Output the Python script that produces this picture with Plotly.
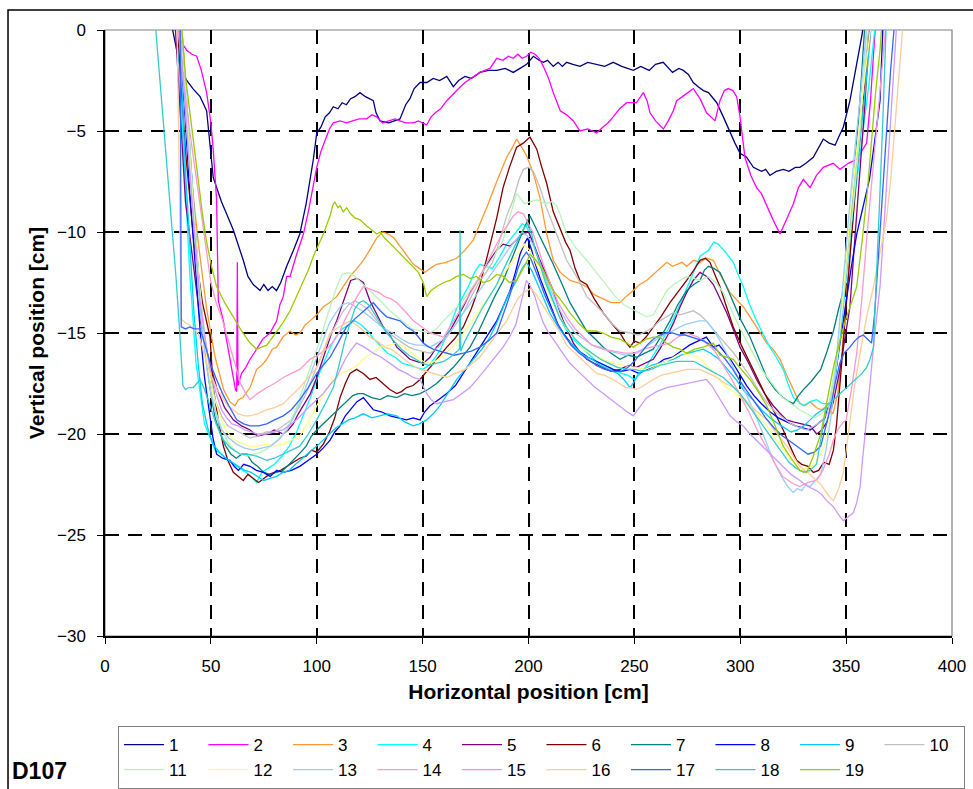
import plotly.graph_objects as go

# ---------------- data (x [cm], y [cm]) ----------------
S1 = [(31,0.5),(35.4,-1.8),(38.6,-2.5),(41.5,-2.9),(44.9,-3.3),(48,-4.0),(51.1,-7.3),(55,-8.5),(57.8,-9.2),(60.6,-9.9),(65.3,-11.4),(67.5,-12.2),(70,-12.6),(73.2,-12.9),(75,-12.6),(77,-12.9),(79,-12.7),(81,-12.9),(83,-12.5),(85.8,-11.7),(89,-10.9),(92,-10.1),(95,-8.6),(98.4,-6.4),(100,-5.1),(102,-4.8),(104,-4.3),(106,-4.1),(107.8,-3.8),(110,-3.9),(112,-3.6),(114,-3.7),(116,-3.4),(118,-3.3),(120.4,-3.1),(123,-3.3),(126.7,-3.5),(128,-4.1),(129.9,-4.5),(134,-4.6),(139.3,-4.4),(142,-3.7),(144,-3.4),(146,-2.9),(148.8,-2.6),(152,-2.6),(155,-2.4),(158,-2.5),(161.4,-2.3),(164.5,-2.8),(167,-2.5),(170,-2.3),(173,-2.4),(177.1,-2.1),(181,-2.0),(185,-2.0),(189,-1.9),(192.8,-2.1),(196,-1.9),(199.1,-1.7),(202.3,-1.3),(205,-1.5),(207,-1.6),(209,-1.5),(211.7,-1.8),(214,-1.6),(216,-1.8),(218,-1.6),(221,-1.7),(224.3,-1.8),(228,-1.6),(232,-1.7),(236,-1.8),(240,-1.6),(244,-1.8),(249.5,-2.0),(253,-1.8),(257,-2.0),(260,-1.7),(263.6,-1.6),(266,-1.9),(268,-2.1),(271,-1.9),(273.1,-2.0),(275.5,-2.2),(277.8,-2.6),(280,-2.8),(282.6,-3.0),(285,-3.1),(288.9,-3.6),(292,-4.3),(295.2,-5.1),(297.5,-5.6),(299.9,-6.1),(303,-6.3),(306.2,-6.8),(308,-6.9),(310,-7.0),(312,-6.9),(314,-7.2),(317,-7.0),(320.4,-6.9),(323,-7.0),(326,-6.8),(328.2,-6.8),(331,-6.6),(334.5,-6.3),(337,-5.8),(339.2,-5.4),(342,-5.6),(344.8,-5.7),(346.5,-5.3),(348.7,-4.8),(351.8,-3.5),(354.5,-2.0),(357.4,-0.3),(358.5,0.5)]
S2 = [(33.8,0.5),(36,-0.6),(38.6,-1.0),(41,-1.2),(43.3,-1.3),(45.5,-2.0),(48,-3.1),(50,-4.6),(51.1,-5.9),(52.7,-8.4),(53.5,-13.4),(55.9,-14.4),(57.5,-15.4),(59,-16.3),(60.5,-17.2),(61.6,-17.8),(62.2,-17.9),(62.5,-11.5),(62.8,-17.6),(64.5,-17.0),(66.5,-16.7),(68.5,-16.3),(71.6,-15.8),(74.5,-15.3),(77.9,-15.0),(81.1,-14.4),(82.6,-13.6),(84.2,-13.2),(85.8,-12.2),(87.4,-12.2),(90.5,-11.1),(93.7,-10.1),(96,-9.0),(98,-7.8),(100,-6.8),(102,-6.0),(104,-5.4),(106,-4.9),(107.8,-4.6),(111,-4.5),(114,-4.6),(117,-4.5),(120,-4.4),(123.6,-4.4),(126,-4.2),(128.3,-4.3),(131,-4.6),(134,-4.5),(137,-4.4),(139.3,-4.5),(142,-4.6),(145.6,-4.6),(148,-4.5),(151.9,-4.7),(154,-4.3),(156,-4.1),(158.5,-3.9),(161.4,-3.5),(164,-3.2),(167,-2.9),(170,-2.6),(173.9,-2.3),(177,-2.1),(181.8,-1.9),(185,-1.4),(188,-1.5),(190.5,-1.3),(192.8,-1.4),(195,-1.2),(197,-1.4),(199.1,-1.3),(201,-1.1),(203.1,-1.2),(205,-1.4),(207,-1.8),(209.5,-2.4),(211.7,-3.1),(215,-4.0),(218,-4.2),(221.2,-4.5),(224.3,-5.0),(228,-4.9),(232.2,-5.1),(235.2,-4.8),(237.5,-4.6),(240,-4.3),(243,-3.9),(246.4,-3.6),(251,-3.6),(254.2,-3.1),(256,-3.5),(257.4,-4.1),(260,-4.5),(263.7,-4.9),(266,-4.5),(268.4,-4.0),(270,-3.5),(274,-3.2),(277.8,-2.9),(281,-3.4),(284.1,-4.1),(288.1,-4.5),(290.4,-3.5),(292.5,-3.0),(294.4,-2.9),(296.5,-3.0),(298.3,-3.3),(299.9,-4.3),(302.2,-6.3),(305,-7.2),(307.7,-7.8),(310,-8.1),(312.5,-8.7),(315.5,-9.4),(318.8,-10.1),(322,-9.3),(325.1,-8.6),(327.5,-7.8),(329.8,-7.4),(333,-7.8),(336,-7.2),(339.2,-6.8),(343.9,-6.6),(347.1,-6.9),(351,-6.6),(355,-6.4),(357.5,-6.0),(359.7,-5.6),(361.5,-3.5),(363,-1.0),(364,0.5)]
S3 = [(34.5,0.5),(37,-3),(40,-6.5),(44,-10.5),(48,-13.8),(52,-16.2),(56,-17.8),(59,-18.4),(61.4,-18.6),(63,-18.3),(65,-18.2),(68.5,-17.7),(71.6,-16.8),(74,-16.6),(76.4,-16.3),(79,-15.8),(81.1,-15.7),(84,-15.2),(87.4,-14.9),(90,-15.1),(92.1,-15.0),(94.5,-14.6),(96.8,-14.4),(100,-14.1),(103.1,-13.7),(106,-13.5),(109.4,-13.2),(112.5,-12.7),(115.7,-12.2),(119,-11.8),(122,-11.4),(125,-10.9),(128.3,-10.3),(131,-10.0),(133.8,-10.1),(136.5,-10.3),(139.3,-10.7),(142.5,-11.2),(145.6,-11.6),(148.5,-11.8),(151.1,-12.0),(153.5,-11.8),(156.6,-11.6),(161,-11.5),(166.1,-11.3),(170,-10.9),(173.9,-10.4),(177,-9.6),(181,-8.6),(185,-7.5),(189.7,-6.3),(192,-5.9),(194.4,-5.4),(196.8,-5.8),(199,-6.2),(202.3,-7.1),(205.4,-8.3),(208.6,-10.1),(211.7,-11.4),(215,-12.0),(219.6,-12.4),(223,-12.5),(227.5,-12.7),(231,-13.1),(235.3,-13.3),(239,-13.5),(243.2,-13.5),(246,-13.2),(249.5,-12.9),(252.5,-12.6),(255.8,-12.4),(260,-12.0),(265.3,-11.5),(268,-11.7),(270,-11.6),(272.5,-11.5),(274.7,-11.7),(278,-11.4),(281,-11.5),(284,-11.3),(287.3,-11.4),(291,-12.2),(295.2,-13.0),(298,-13.3),(301.4,-13.7),(304,-14.1),(307,-14.6),(310,-15.1),(312.5,-15.5),(315.5,-15.8),(318.8,-16.3),(322,-17.1),(325.1,-17.8),(328.2,-18.5),(330.5,-18.6),(333,-18.4),(336,-18.7),(338.5,-18.8),(341,-18.6),(343.8,-19.0),(346,-18.0),(348,-16.0),(351,-12.0),(354,-8.5),(357,-5.0),(360,-2.0),(362,0.5)]
S4 = [(34,0.5),(37,-6),(40,-12),(43,-16.5),(47,-19.5),(52,-20.8),(55,-21.0),(58,-21.3),(61,-21.5),(64,-21.7),(68,-22.0),(71.6,-22.4),(74,-21.9),(77,-21.7),(80,-21.5),(83.5,-21.1),(87,-20.6),(90.5,-19.9),(94,-19.0),(97,-18.2),(100,-17.3),(103,-16.5),(106,-15.8),(109,-15.2),(112,-14.8),(115,-14.6),(118,-14.4),(121,-14.6),(124,-14.9),(127,-15.3),(130,-15.6),(133.5,-16.0),(137,-16.2),(140.5,-16.5),(144,-16.6),(147,-16.7),(150,-16.8),(153,-16.6),(156,-16.2),(158.5,-15.8),(161,-15.2),(163.5,-14.5),(166,-13.8),(169,-13.2),(172,-12.6),(174.5,-12.0),(177,-11.6),(180,-11.7),(183,-11.8),(186.5,-11.2),(189.7,-10.6),(192.5,-10.2),(195,-9.9),(197,-9.6),(199,-9.7),(201,-10.2),(203,-10.8),(205.5,-11.6),(208,-12.4),(211,-13.2),(214,-14.0),(217,-14.7),(220,-15.2),(224,-15.6),(228,-16.0),(232,-16.4),(236,-16.6),(240,-16.8),(244,-17.0),(247,-17.1),(250,-17.3),(253,-17.0),(256,-16.6),(259,-16.1),(262,-15.6),(265,-15.0),(268,-14.4),(271,-13.7),(274,-13.0),(277.5,-12.1),(281,-11.2),(285,-10.9),(287.5,-10.5),(289.6,-10.6),(293,-11.0),(296.7,-11.5),(299,-12.1),(301.4,-12.7),(304.5,-13.6),(307.7,-14.4),(311,-15.1),(314,-15.7),(317,-16.2),(320.3,-16.8),(322.5,-17.5),(325.1,-18.2),(327.5,-18.4),(329.8,-18.6),(333,-18.4),(336,-18.3),(339,-18.5),(342,-18.5),(344.5,-17.2),(347,-15.0),(349.5,-12.5),(352,-10.0),(355,-7.5),(358,-5.0),(361,-2.5),(364,0.5)]
S5 = [(33,0.5),(36,-5),(38,-8.5),(41,-11),(45,-14.4),(49,-16.3),(52.7,-17.7),(56.5,-18.7),(60.6,-19.3),(64.5,-19.6),(68.5,-19.8),(72,-20.1),(76.4,-20.0),(80,-19.8),(84.2,-20.0),(86.5,-19.8),(88.9,-19.5),(91.3,-19.0),(93.7,-18.6),(97,-18.0),(100,-17.2),(102.5,-16.4),(104.7,-15.8),(107,-15.0),(109.4,-14.4),(112,-13.6),(114.1,-13.0),(116,-12.4),(119,-12.3),(122,-12.5),(125.1,-13.4),(128,-14.0),(131.4,-14.7),(134.5,-15.1),(137.8,-15.7),(141,-16.0),(144,-16.3),(147,-16.4),(150.3,-16.5),(153.5,-16.2),(156.6,-15.7),(160,-15.3),(162.9,-14.9),(166,-14.3),(169.2,-13.7),(173,-12.9),(177.1,-12.2),(181,-11.5),(185,-10.9),(188,-10.6),(191.3,-10.7),(194,-10.4),(197,-10.1),(200,-10.0),(202.5,-10.6),(205,-11.3),(208,-12.0),(211.7,-12.9),(214,-13.7),(216.4,-14.4),(219,-15.0),(221.2,-15.5),(224,-15.9),(227.5,-16.3),(231,-16.5),(235.3,-16.7),(239,-16.9),(243.2,-16.8),(247,-16.6),(251,-16.7),(255,-16.5),(258.9,-16.3),(262,-15.8),(265.3,-15.2),(268.5,-14.5),(271.6,-13.7),(274.7,-13.0),(277.8,-12.4),(281,-12.0),(284.1,-12.2),(287.3,-12.6),(290.5,-13.3),(293.6,-14.0),(297,-14.9),(299.9,-15.7),(304,-16.5),(307.7,-17.3),(311.5,-18.0),(315.6,-18.6),(319,-19.0),(321.9,-19.3),(325,-19.4),(329,-19.5),(333,-19.6),(336.1,-20.0),(338.5,-19.8),(341,-19.4),(344,-18.4),(347.1,-16.8),(349.5,-15.3),(351.8,-13.7),(354,-10.5),(356.5,-7.0),(359,-3.5),(361,0.5)]
S6 = [(34,0.5),(38,-6),(42,-10.5),(46,-13.5),(49.6,-15.2),(51.1,-17.7),(53.5,-19.3),(55.9,-20.6),(58,-21.3),(60.6,-21.9),(63,-22.1),(65.3,-22.3),(67.5,-22.0),(70,-22.2),(72.5,-22.4),(75,-22.2),(77.5,-22.0),(80,-21.9),(83,-21.8),(86,-21.6),(89,-21.4),(92,-21.2),(95,-21.1),(97.5,-20.8),(100,-20.9),(103.1,-20.5),(106,-19.9),(108.5,-19.2),(111,-18.2),(113.5,-17.5),(115.7,-17.0),(118.8,-16.8),(122,-17.0),(125.1,-17.3),(128,-17.2),(131.4,-17.5),(134.5,-17.8),(137.8,-18.0),(140,-17.9),(142.4,-17.7),(145.5,-17.6),(148.8,-17.3),(151,-17.0),(153.5,-16.7),(157.5,-16.2),(161.4,-15.7),(165,-15.3),(169.2,-14.7),(173,-13.8),(177.1,-12.6),(181,-11.0),(185,-9.3),(188,-7.8),(191,-6.8),(194.4,-5.8),(197.5,-5.6),(200.7,-5.3),(203.9,-5.9),(206,-6.7),(208.6,-7.6),(211.7,-9.0),(215,-9.8),(217.5,-10.5),(219.6,-10.9),(222,-11.8),(224.3,-12.4),(227.5,-12.6),(231,-13.3),(235.3,-14.0),(239,-14.5),(243.2,-15.0),(245.5,-15.4),(247.9,-15.7),(250,-15.4),(252.6,-15.5),(255.5,-15.2),(258.9,-14.7),(262.5,-14.2),(266.8,-13.5),(270.5,-13.0),(274.7,-12.4),(278,-11.9),(281,-11.4),(283.5,-11.3),(285.7,-11.5),(288,-12.1),(290.4,-12.7),(293.5,-13.7),(296.7,-14.7),(300.5,-15.6),(304.6,-16.5),(308.5,-17.4),(312.5,-18.2),(316.5,-19.0),(320.3,-19.8),(323.5,-20.6),(326.6,-21.3),(329,-21.5),(332,-21.6),(334.5,-21.9),(337,-21.8),(339.5,-21.4),(342,-21.5),(344,-20.8),(345.5,-19.5),(347.5,-17.0),(350.2,-13.4),(352.5,-10.5),(355,-7.0),(358,-3.5),(361.3,0.5)]
S7 = [(36,0.5),(38.5,-3.5),(40,-6),(42,-9),(44,-12),(46,-14.5),(48,-16.5),(50,-18.0),(52,-19.2),(54.5,-20.0),(57,-20.6),(59.5,-21.0),(62,-21.2),(64.5,-21.0),(67,-21.0),(69.5,-21.4),(72,-21.6),(75,-21.9),(78,-22.0),(81,-21.9),(84,-21.8),(87,-21.5),(90,-21.2),(92.5,-20.9),(95,-20.6),(97.5,-20.1),(100,-19.8),(103,-19.5),(106,-19.2),(109,-18.9),(112,-18.6),(114.5,-18.4),(117,-18.1),(119.5,-18.0),(122,-18.0),(126,-18.2),(129.9,-18.3),(133.5,-18.1),(137.8,-18.2),(141.5,-18.0),(145,-18.1),(148.8,-18.0),(152.5,-17.8),(156.6,-17.5),(160.5,-17.1),(164.5,-16.7),(168.5,-16.2),(172.4,-15.7),(176.5,-14.9),(180.3,-14.0),(184,-13.2),(188.1,-12.4),(191,-11.6),(194.4,-10.7),(197.5,-9.9),(200.7,-9.2),(203,-9.7),(205.4,-10.2),(208.5,-10.9),(211.7,-11.6),(215.5,-12.5),(219.6,-13.5),(223.5,-14.2),(227.5,-14.9),(231.5,-15.3),(235.3,-15.7),(239,-16.0),(243.2,-16.3),(247,-16.1),(251,-16.2),(255,-16.0),(258.9,-15.8),(263,-15.1),(266.8,-14.4),(270.5,-13.6),(274.7,-12.9),(278,-12.6),(281,-12.4),(283,-11.9),(285,-11.7),(287.5,-11.8),(290.4,-12.0),(293.5,-12.7),(296.7,-13.5),(300.5,-14.4),(304.6,-15.2),(308.5,-16.2),(312.5,-17.2),(316.5,-17.8),(320.3,-18.2),(323,-18.4),(325.1,-18.5),(327.5,-18.1),(329.8,-17.8),(333.5,-17.4),(338,-16.8),(341,-15.9),(344,-14.9),(346.5,-13.8),(348.7,-12.9),(351,-10.5),(354,-7.0),(356.5,-3.5),(359,0.5)]
S8 = [(35,0.5),(37.5,-4),(40,-8),(42.5,-11.5),(45,-15),(47,-17.2),(49,-18.8),(51,-20.2),(52.7,-21.0),(55.5,-21.2),(59,-21.3),(61,-21.6),(63,-21.8),(65.5,-21.5),(68.5,-21.6),(71.5,-21.8),(74.8,-21.9),(78,-22.1),(81,-21.8),(84.2,-21.9),(88,-21.8),(92,-21.6),(96,-21.3),(100,-21.0),(103,-20.7),(106.3,-20.3),(108.5,-19.9),(111,-19.6),(113.5,-19.1),(115.7,-18.8),(119,-18.4),(122,-18.2),(124.5,-18.5),(126.7,-18.8),(130.5,-18.9),(134.6,-19.1),(138.5,-19.2),(142.4,-19.3),(145.5,-19.2),(148.8,-19.3),(151,-18.9),(153.5,-18.6),(157.5,-18.3),(161.4,-18.0),(165.5,-17.6),(169.2,-17.0),(173,-16.4),(177.1,-15.7),(181,-15.1),(185,-14.4),(188,-13.7),(191.3,-12.9),(193.8,-12.0),(196,-11.1),(198,-10.6),(199.5,-10.3),(201.5,-10.9),(203,-11.5),(205.5,-12.3),(208,-13.0),(211,-13.8),(214,-14.6),(217,-15.1),(220,-15.5),(224,-15.9),(228,-16.2),(232,-16.4),(236,-16.6),(240,-16.8),(244,-16.9),(248,-16.8),(252,-17.0),(256,-16.8),(260,-16.6),(264,-16.3),(268,-16.2),(272,-15.9),(276,-15.6),(280,-15.4),(284,-15.2),(287.3,-15.7),(290,-15.6),(293,-16.0),(296,-16.4),(299.5,-17.0),(303,-17.6),(306.5,-18.1),(310,-18.5),(314,-18.9),(318,-19.2),(322,-19.4),(326,-19.6),(329.5,-19.7),(333,-19.8),(336.5,-19.5),(340,-19.2),(342.5,-18.3),(345,-17.0),(347.5,-15.2),(350,-13.4),(352.5,-11.7),(355,-10.1),(358,-8.8),(361,-7.4),(363.5,-5.5),(366,-3.5),(367.5,0.5)]
S9 = [(35,0.5),(38,-7),(40,-10.5),(42,-14),(44,-16.5),(46,-18.5),(48.5,-19.7),(51,-20.5),(54,-20.9),(57,-21.2),(60,-21.4),(63,-21.6),(66,-21.8),(69,-21.9),(72,-22.1),(75,-22.3),(78,-22.2),(81,-22.1),(84,-21.9),(87,-21.8),(90,-21.5),(93,-21.2),(96.5,-20.9),(100,-20.6),(103,-20.3),(106,-20.0),(109,-19.7),(112,-19.5),(115,-19.3),(118,-19.2),(122,-19.0),(126,-19.2),(129.9,-19.1),(133.5,-19.0),(137.8,-19.1),(141.5,-19.4),(145.6,-19.6),(148.5,-19.5),(151.9,-19.3),(155,-19.0),(158.2,-18.6),(162,-18.0),(166.1,-17.3),(170,-16.8),(173.9,-16.3),(178,-15.8),(181.8,-15.2),(185,-14.5),(188.1,-13.7),(191,-13.0),(194.4,-12.4),(197,-11.8),(199,-11.5),(201.5,-11.9),(204,-12.5),(207,-13.3),(210,-14.0),(214,-14.7),(218,-15.3),(222,-15.7),(226,-16.1),(230,-16.3),(234,-16.6),(238,-16.8),(242,-17.0),(245,-17.3),(248,-17.7),(250,-17.4),(252,-17.0),(255,-16.8),(258,-16.6),(261.5,-16.5),(265,-16.4),(268.5,-16.3),(272,-16.1),(275.5,-16.0),(279,-15.9),(282.5,-15.8),(286,-16.0),(290,-16.3),(294,-16.8),(298,-17.3),(302,-17.9),(306,-18.3),(310,-18.8),(314,-19.2),(318,-19.5),(321,-19.7),(324,-19.9),(327,-19.8),(330,-19.6),(333,-19.3),(336,-19.0),(339,-18.8),(342,-18.6),(344.5,-17.4),(347,-15.5),(349.5,-12.8),(352,-10.0),(354.5,-7.5),(357,-5.0),(359.5,-2.5),(362,0.5)]
S10 = [(36,0.5),(39,-4.5),(42,-9),(44.5,-12.5),(47,-15),(49.5,-16.8),(52,-18.3),(55,-19.1),(58,-19.6),(61.5,-19.8),(65,-20.0),(68.5,-20.2),(72,-20.1),(76,-19.9),(80,-19.9),(84,-19.6),(88,-19.3),(91.5,-18.7),(95,-18.0),(98,-17.2),(101,-16.4),(103.5,-15.8),(106,-15.2),(109,-14.6),(112,-14.0),(115,-13.6),(118,-13.4),(121,-13.6),(124,-13.8),(127,-14.2),(130,-14.6),(134,-15.0),(138,-15.3),(142,-15.6),(145.6,-15.8),(149.5,-15.9),(153.5,-16.0),(157.5,-15.7),(161.4,-15.2),(165.5,-14.6),(169.2,-14.0),(173,-13.2),(177.1,-12.4),(180,-12.0),(183,-11.5),(185,-10.9),(187.5,-10.0),(189.7,-9.2),(192.8,-8.4),(195.5,-7.4),(197.6,-6.9),(200,-6.8),(202.3,-7.0),(205.4,-7.8),(208.5,-8.8),(211.7,-9.7),(215,-10.6),(218,-11.4),(221,-11.9),(224.3,-12.5),(227.5,-13.2),(231.5,-13.6),(235.3,-14.0),(239,-14.5),(243.2,-14.9),(248,-15.0),(252,-15.1),(255.8,-14.9),(259,-14.7),(262,-14.4),(265,-14.2),(268.4,-14.0),(271.5,-14.1),(274.7,-14.0),(277.8,-13.9),(281,-14.1),(284,-14.4),(287,-14.8),(290.4,-15.2),(293.5,-15.6),(297,-16.0),(301,-16.6),(305,-17.2),(309,-17.9),(313,-18.5),(316.5,-18.9),(320,-19.2),(324,-19.5),(328,-19.7),(331.5,-19.8),(335,-19.6),(338,-19.4),(341,-19.0),(343.5,-17.8),(346,-16.0),(348.5,-13.5),(351,-10.5),(354,-7.0),(357,-4.0),(359,-2.0),(361,0.5)]
S11 = [(36,0.5),(39,-4.5),(42,-9),(44.5,-12.5),(47,-15.5),(49.5,-17.4),(52,-18.8),(55,-19.7),(58,-20.4),(61,-20.8),(64,-21.0),(67,-21.1),(70,-21.0),(73.5,-20.9),(77,-20.7),(80.5,-20.4),(84,-20.0),(87,-19.5),(90,-18.8),(93,-17.9),(96,-17.0),(99,-16.1),(102,-15.2),(104.5,-14.3),(107,-13.5),(109.5,-12.7),(112,-12.1),(115,-12.0),(118,-12.2),(121,-12.5),(124,-12.8),(127.5,-13.1),(131,-13.5),(134.5,-13.9),(138,-14.2),(141.5,-14.5),(145,-14.8),(149,-14.9),(153.5,-15.0),(156.5,-14.8),(159.8,-14.4),(164.5,-13.9),(169.2,-13.4),(173,-12.8),(177,-12.2),(180,-11.8),(183,-11.3),(185.5,-10.9),(188,-10.4),(191,-9.3),(194.4,-8.1),(196,-8.3),(198,-8.6),(201,-8.5),(203.9,-8.4),(206,-8.5),(208,-8.6),(211,-8.5),(213.3,-8.7),(215.5,-9.3),(218,-10.1),(222.5,-10.8),(227.5,-11.4),(232,-12.0),(237,-12.7),(241,-13.2),(245,-13.6),(248.5,-13.8),(252,-14.0),(255.8,-14.2),(259,-14.1),(262,-13.5),(265.3,-12.9),(268.5,-12.6),(271.5,-12.4),(274.7,-12.2),(278,-12.3),(281,-12.4),(283,-12.3),(285,-12.2),(288.5,-12.5),(292,-13.0),(296,-13.9),(300,-14.8),(305,-15.8),(310,-16.8),(315,-17.5),(320,-18.2),(324,-18.5),(328,-18.8),(331.5,-19.0),(335,-19.2),(338.5,-19.0),(342,-18.5),(345,-16.5),(348,-14.0),(351,-11.0),(354,-8.0),(357,-4.5),(360,0.5)]
S12 = [(35,0.5),(38,-4),(41,-8),(43.5,-11.5),(46,-14.5),(48.5,-16.5),(51,-18.0),(54,-19.0),(57,-19.8),(60,-20.2),(63,-20.4),(66,-20.5),(68.5,-20.6),(72,-20.6),(76.4,-20.5),(80,-20.6),(84.2,-20.5),(88,-20.3),(92,-20.1),(96,-19.4),(100,-18.6),(104,-17.9),(107.8,-17.3),(111.5,-17.0),(115.7,-16.8),(119,-16.6),(122,-16.3),(126,-16.0),(129.9,-15.7),(134,-15.6),(137.8,-15.5),(141.5,-15.7),(145,-16.0),(148.5,-16.3),(152,-16.5),(156,-16.4),(160,-16.1),(164,-15.7),(168,-15.2),(172,-14.6),(176,-14.0),(180,-13.4),(184,-12.8),(188,-12.1),(192,-11.5),(195,-11.0),(198,-10.6),(200.5,-10.9),(203,-11.4),(206.5,-12.3),(210,-13.2),(214,-14.0),(218,-14.8),(222,-15.3),(226,-15.8),(230.5,-16.1),(235,-16.3),(240,-16.5),(245,-16.6),(250,-16.7),(255,-16.8),(260,-16.6),(265,-16.4),(268.5,-16.2),(272,-16.0),(276,-16.1),(280,-16.2),(283,-16.5),(286,-16.8),(290,-17.3),(293.6,-17.7),(297,-17.9),(300,-18.2),(303,-18.5),(306,-18.8),(309,-19.2),(312.5,-19.6),(315.5,-20.1),(318.5,-20.5),(322,-21.0),(325,-21.4),(328,-21.8),(331,-21.7),(334,-21.6),(337,-21.2),(340,-20.5),(343,-18.5),(346,-16.0),(349,-12.5),(352,-9.0),(355,-6.0),(358,-3.0),(362,0.5)]
S13 = [(35,0.5),(37.5,-3.5),(40,-7),(42.5,-10.5),(45,-14),(47.5,-16.3),(50,-18),(52.5,-19.1),(55,-19.8),(58.5,-20.2),(62,-20.5),(66,-20.7),(70,-20.8),(74,-20.7),(78,-20.6),(82,-20.3),(86,-19.8),(89.5,-19.1),(93,-18.2),(96.5,-17.2),(100,-16.2),(103,-15.3),(106,-14.5),(109,-14.0),(112,-13.6),(115,-13.5),(118,-13.7),(121.5,-13.9),(125,-14.2),(128.5,-14.5),(132,-14.8),(136,-15.0),(140,-15.3),(143.5,-15.5),(147,-15.6),(150,-15.6),(153.5,-15.7),(157,-15.5),(160,-15.3),(164,-14.8),(168,-14.2),(172,-13.6),(176,-13.0),(180,-12.4),(184,-11.8),(187.5,-11.3),(191,-10.8),(194,-10.4),(197,-10.0),(199.5,-10.2),(202,-10.6),(205,-11.4),(208,-12.3),(211.5,-13.1),(215,-13.9),(218.5,-14.5),(222,-15.0),(226,-15.3),(230,-15.6),(234,-15.7),(238,-15.9),(242,-16.0),(246,-16.1),(250,-16.0),(254,-15.8),(258,-15.5),(262,-15.2),(266,-15.0),(270,-14.8),(273.5,-14.6),(277,-14.5),(280.5,-14.4),(284,-14.4),(287,-14.8),(290,-15.3),(293.5,-16.0),(297,-16.8),(300.5,-17.5),(304,-18.3),(307,-19.0),(310,-19.8),(313,-20.6),(315.6,-21.3),(318,-21.8),(320,-22.2),(322.5,-22.6),(325,-22.9),(327,-22.7),(329,-22.8),(331,-22.5),(333,-22.6),(335.5,-22.3),(338,-22.0),(340.5,-20.8),(343,-19.0),(345.5,-16.2),(348,-13.0),(351,-9.5),(354,-6.0),(357,-3.0),(360,0.5)]
S14 = [(34,0.5),(37,-2.5),(40,-5),(43,-7.3),(46,-9.5),(48,-11.0),(50,-12.5),(52.5,-13.5),(55,-14.2),(57.5,-15.1),(60,-16.0),(62,-16.8),(64,-17.5),(66.5,-18.0),(68.5,-18.3),(72,-18.0),(76.4,-17.7),(80,-17.5),(84.2,-17.2),(88,-17.0),(92,-16.8),(96.8,-16.3),(100.5,-16.1),(104.7,-15.8),(108,-15.4),(111,-14.9),(113.5,-14.3),(116,-13.8),(119,-13.2),(122,-12.7),(124.5,-12.8),(126.7,-12.9),(129.5,-13.0),(132,-13.2),(135,-13.3),(137.8,-13.5),(141.5,-13.9),(145.6,-14.4),(149.5,-14.7),(153.5,-15.0),(157,-15.1),(160,-15.2),(163.5,-14.6),(167,-14.0),(171,-13.3),(175,-12.6),(179,-11.8),(183,-11.0),(186,-10.4),(188,-10.0),(190.5,-9.6),(192.8,-9.2),(195,-9.0),(197.6,-9.1),(200,-9.6),(202,-10.0),(204.5,-10.8),(207,-11.6),(210.5,-12.6),(214,-13.5),(218,-14.2),(222,-14.8),(226,-15.2),(230,-15.6),(235,-15.8),(240,-15.9),(245.5,-16.0),(251,-16.0),(254.5,-15.8),(258,-15.7),(262.5,-15.6),(266.8,-15.5),(270.5,-15.2),(274.7,-15.0),(277.5,-15.1),(280,-15.2),(284,-15.5),(288,-15.9),(292,-16.6),(296,-17.3),(300,-18.1),(304,-18.9),(308,-19.8),(312,-20.6),(316,-21.4),(320,-22.1),(324,-22.4),(328,-22.6),(332,-22.4),(336,-22.3),(339,-21.8),(342,-21.0),(344,-20.3),(346,-19.8),(348,-19.5),(350,-19.3),(352.5,-17.8),(355,-16.0),(357.5,-13.2),(360,-10.0),(362.5,-7.0),(365,-4.0),(367,-1.8),(369,0.5)]
S15 = [(35,0.5),(37.5,-3.5),(40,-7),(42.5,-10.3),(45,-13.5),(47.5,-15.5),(50,-17),(52.5,-18.0),(55,-18.8),(57.5,-19.2),(60,-19.5),(63,-19.6),(66,-19.8),(69,-19.9),(72,-20.0),(76,-20.0),(80,-19.9),(84,-19.8),(88,-19.5),(91.5,-19.2),(95,-18.8),(99,-18.4),(103,-18.0),(106,-17.6),(109.4,-17.2),(112,-16.6),(114,-16.2),(116.5,-15.8),(118.8,-15.5),(122.5,-15.7),(126.7,-16.0),(130.5,-16.2),(134.6,-16.5),(138.5,-16.8),(142.4,-17.0),(145.5,-17.2),(148.8,-17.3),(150.5,-17.7),(151.9,-18.0),(154,-18.3),(156.6,-18.5),(160.5,-18.4),(164.5,-18.3),(168.5,-18.0),(172.4,-17.7),(176.5,-17.2),(180.3,-16.7),(184,-16.2),(188,-15.7),(191,-15.2),(194,-14.6),(196.5,-13.5),(199,-12.4),(201,-12.7),(203,-13.2),(205,-13.9),(207,-14.5),(209.5,-15.0),(211.7,-15.3),(215.5,-15.9),(219.6,-16.5),(223.5,-16.9),(227.5,-17.3),(231.5,-17.7),(235.3,-18.0),(239,-18.3),(243.2,-18.6),(246.5,-18.9),(249.5,-19.1),(252.5,-18.7),(255.8,-18.2),(260.5,-17.9),(265.3,-17.7),(270,-17.6),(274.7,-17.5),(279.5,-17.4),(284,-17.3),(286.5,-17.6),(288.8,-18.0),(292,-18.6),(295.2,-19.1),(298.5,-19.4),(301.4,-19.6),(304.6,-20.0),(308.5,-20.4),(312.5,-20.8),(316.5,-21.2),(320.3,-21.6),(324,-22.0),(328.2,-22.3),(332,-22.6),(336,-22.8),(338.5,-23.0),(340.8,-23.3),(344,-23.6),(346.5,-24.0),(348.7,-24.3),(351,-24.1),(353.4,-23.9),(355,-23.4),(356.6,-22.6),(358,-21.0),(359.7,-19.3),(361.3,-17.5),(362.9,-15.7),(364.5,-14.2),(366,-12.7),(368,-9.5),(370,-6.0),(372,-3.0),(374,0.5)]
S16 = [(34,0.5),(35,-7),(36,-14.3),(38,-14.5),(40,-14.6),(42,-14.8),(44,-15.0),(46,-15.7),(48,-16.5),(50.5,-17.2),(53,-17.8),(55.5,-18.2),(58,-18.6),(60.5,-18.8),(63,-19.0),(66,-19.1),(68.5,-19.1),(72,-19.0),(76.4,-18.8),(80,-18.7),(84.2,-18.5),(88,-18.1),(92,-17.7),(96,-17.2),(100,-16.7),(103,-15.9),(106.3,-15.0),(109,-14.8),(112,-14.6),(114,-14.5),(116,-14.4),(120,-14.7),(125,-15.2),(128.5,-15.4),(132,-15.7),(135,-15.8),(137.8,-16.0),(141.5,-16.3),(145,-16.6),(148.8,-16.8),(152,-16.9),(155,-17.0),(158,-17.1),(161.4,-17.2),(165.5,-17.0),(170,-16.8),(173.5,-16.5),(177,-16.2),(180.5,-15.7),(184,-15.2),(187,-14.8),(189.7,-14.4),(192.5,-13.8),(195,-13.3),(197.6,-13.0),(201,-12.8),(203,-13.0),(205.4,-13.4),(208.5,-13.9),(211.7,-14.4),(215,-15.0),(218,-15.6),(221,-15.9),(224.3,-16.2),(228,-16.6),(232.2,-17.0),(236,-17.1),(240,-17.3),(243,-17.5),(246,-17.7),(248.5,-17.7),(251,-17.8),(254.5,-17.6),(258.9,-17.3),(262.5,-17.1),(266.8,-17.0),(270.5,-16.9),(274.7,-16.8),(278,-16.8),(281,-16.8),(285,-17.0),(289,-17.2),(293,-17.5),(296.7,-17.7),(300.5,-18.1),(304,-18.5),(308,-18.9),(312.5,-19.3),(316,-19.8),(319,-20.2),(322,-20.6),(325,-21.1),(328,-21.6),(332,-21.9),(336,-22.3),(338,-22.5),(340,-22.8),(342,-23.1),(344,-23.3),(346.5,-22.7),(348.7,-21.9),(350.3,-20.6),(351.8,-19.3),(354,-17.6),(356.6,-16.0),(359.5,-14.3),(362.9,-12.7),(366,-11.0),(369,-9.4),(371,-7.5),(373,-5.0),(375,-2.3),(377,0.5)]
S17 = [(35.5,0.5),(36,-14.7),(38,-14.8),(40,-14.7),(42,-14.8),(44.9,-14.8),(46.4,-15.3),(48,-15.9),(50,-16.6),(52.7,-17.3),(55.5,-18.0),(58.5,-18.6),(62.2,-19.3),(65.5,-19.5),(68.5,-19.6),(72.5,-19.6),(76.4,-19.5),(80,-19.3),(84.2,-19.1),(88,-18.8),(92,-18.3),(96,-17.7),(100,-17.0),(103,-16.6),(106.3,-16.2),(110,-15.5),(114,-14.7),(118,-14.3),(122,-13.9),(124.5,-13.7),(126.7,-13.5),(130,-13.9),(133,-14.2),(136,-14.3),(139.3,-14.4),(142.5,-14.7),(145.6,-14.9),(148,-15.2),(150.3,-15.5),(153,-15.7),(155,-15.8),(158,-15.9),(161.4,-16.0),(165,-16.1),(169.2,-16.0),(173,-15.9),(177,-15.7),(181,-15.4),(185,-15.0),(187.5,-14.3),(190,-13.5),(192.5,-12.7),(195,-11.8),(197,-11.3),(199,-11.0),(201,-11.3),(203,-11.8),(205.5,-12.5),(208,-13.2),(211,-13.9),(214,-14.6),(217,-15.1),(220,-15.6),(224,-16.0),(228,-16.3),(232,-16.6),(236,-16.8),(240,-16.9),(244,-16.9),(247,-16.7),(250,-16.4),(253,-16.0),(256,-15.6),(259,-15.3),(262,-15.1),(265,-15.0),(268,-15.0),(271,-15.1),(274,-15.1),(277,-15.2),(280,-15.3),(283,-15.4),(286,-15.6),(289.5,-15.9),(293,-16.3),(296.5,-16.8),(300,-17.4),(304,-18.0),(308,-18.6),(312,-19.2),(316,-19.7),(320,-20.1),(324,-20.4),(328,-20.7),(332,-21.0),(335,-20.9),(338,-20.6),(340.5,-19.6),(343,-18.5),(345,-17.4),(347,-16.5),(349,-16.0),(351.8,-15.7),(354,-15.4),(356,-15.2),(358.1,-15.1),(360,-15.3),(362,-15.5),(363.5,-14.0),(365,-11.5),(366.5,-9.0),(368,-6.5),(369.5,-4.0),(371,-2.0),(373,0.5)]
S18 = [(23.6,0.5),(26,-2.5),(28,-5),(30,-7.5),(32,-10),(33.5,-12.2),(35,-14.5),(36.8,-17.6),(38,-17.8),(39.5,-17.7),(41.7,-17.7),(43.5,-17.5),(44.9,-17.3),(47,-17.8),(49.6,-18.6),(52.5,-19.5),(55.9,-20.3),(59.5,-20.7),(63.8,-21.0),(67.5,-21.0),(71.6,-21.1),(74,-21.2),(76.4,-21.3),(80,-21.2),(84,-21.0),(88,-20.8),(92,-20.6),(96,-20.0),(100,-19.3),(104,-18.5),(107.8,-17.7),(110.5,-16.6),(113,-15.5),(115.5,-14.6),(118,-13.8),(120,-13.5),(122,-13.4),(124.5,-13.6),(127,-14.0),(130,-14.5),(133,-15.0),(136.5,-15.4),(140,-15.8),(143.5,-16.1),(147,-16.3),(150,-16.5),(153,-16.6),(156.5,-16.5),(160,-16.4),(163,-16.2),(165,-16.0),(167.4,-15.8),(167.7,-9.9),(168.0,-15.9),(170,-15.4),(172,-15.0),(175,-14.4),(178,-13.8),(181.5,-13.2),(185,-12.6),(188,-11.9),(191,-11.2),(193.5,-10.7),(196,-10.2),(198,-9.8),(199.5,-9.6),(201.5,-10.1),(203,-10.8),(205.5,-11.6),(208,-12.5),(211.5,-13.4),(215,-14.3),(218.5,-14.8),(222,-15.3),(226,-15.7),(230,-16.0),(234,-16.3),(238,-16.5),(242,-16.7),(246,-16.8),(250,-16.8),(254,-16.9),(258,-16.8),(262,-16.6),(266,-16.5),(270,-16.4),(274,-16.4),(278,-16.4),(281.5,-16.6),(285,-16.8),(288.5,-17.0),(292,-17.2),(296,-17.6),(300,-18.0),(304,-18.6),(308,-19.2),(312,-19.8),(316,-20.4),(319.5,-20.9),(323,-21.4),(326.5,-21.7),(330,-21.9),(333,-21.8),(336,-21.5),(338.5,-20.0),(340.8,-18.6),(344,-18.3),(347,-18.0),(351,-17.6),(355,-17.2),(357.5,-17.0),(359.7,-16.7),(361.3,-16.3),(362.9,-15.7),(364.5,-12.0),(366,-8.0),(367.5,-4.0),(369,0.5)]
S19 = [(36,0.5),(38,-2.3),(40,-4),(42,-5.8),(44,-7.5),(46,-9.1),(48,-10.5),(50.3,-11.7),(52.7,-12.7),(56.5,-13.5),(60.6,-14.2),(64.5,-14.9),(68.5,-15.5),(71.6,-15.8),(74,-15.7),(76.4,-15.6),(78.5,-15.3),(81.1,-14.9),(84,-14.5),(87.4,-13.9),(90.5,-13.2),(93.7,-12.5),(96,-11.9),(98.4,-11.2),(100.5,-10.7),(103.1,-10.1),(106.3,-9.2),(107.5,-8.7),(108.5,-8.5),(110,-8.8),(111,-8.7),(112.5,-9.0),(114.1,-8.8),(116,-9.1),(118,-9.3),(120.5,-9.4),(123.6,-9.7),(126,-9.9),(128.3,-10.1),(130,-10.0),(132,-10.3),(135,-10.6),(137.8,-10.9),(141.5,-11.3),(145.6,-11.7),(148,-12.0),(150.3,-12.5),(151.9,-13.2),(154,-12.9),(156.6,-12.7),(160,-12.5),(162.9,-12.4),(166,-12.2),(169.2,-12.1),(172.5,-12.3),(175.5,-12.2),(178.5,-12.5),(181.8,-12.4),(185,-12.1),(188.1,-12.2),(191,-12.5),(194.4,-12.4),(196.5,-12.0),(199.1,-11.5),(200.7,-11.1),(203.5,-11.4),(207,-11.9),(209.5,-12.5),(211.7,-12.9),(215.5,-13.4),(219.6,-14.0),(223.5,-14.5),(227.5,-14.9),(231.5,-14.9),(235.3,-15.0),(239,-15.2),(243.2,-15.3),(246.5,-15.5),(249.5,-15.7),(252.5,-15.5),(255.8,-15.3),(259,-15.2),(262.1,-15.2),(265,-15.5),(268.4,-15.7),(271.5,-15.8),(274.7,-16.0),(278.5,-15.8),(282.6,-15.7),(285,-15.6),(287.3,-15.5),(290.4,-16.1),(293.5,-16.2),(296.7,-16.3),(300.5,-16.8),(304.6,-17.3),(308.5,-17.9),(312.5,-18.6),(316.5,-19.6),(320.3,-20.6),(324,-21.2),(328.2,-21.8),(331.4,-21.9),(334.5,-21.1),(338,-20.0),(341,-18.4),(344,-16.7),(347,-15.4),(350.2,-14.2),(352.5,-13.5),(355,-12.7),(357.5,-10.5),(360,-8.0),(362,-5.5),(364,-3.0),(366,-1.0),(367,0.5)]

SERIES = [S1, S2, S3, S4, S5, S6, S7, S8, S9, S10, S11, S12, S13, S14, S15, S16, S17, S18, S19]
NAMES = [str(i) for i in range(1, 20)]
COLORS = ["#000080", "#FF00FF", "#FF9933", "#00FFFF", "#800080", "#800000", "#008080",
          "#0000FF", "#00CCFF", "#C0C0C0", "#B8F5B8", "#FFFF80", "#99CCFF", "#FF99CC",
          "#CC99FF", "#FFCC99", "#3366FF", "#33CCCC", "#99CC00"]

X_TICKS = list(range(0, 401, 50))
Y_TICKS = list(range(-30, 1, 5))

fig = go.Figure()
for name, pts, col in zip(NAMES, SERIES, COLORS):
    fig.add_trace(go.Scatter(
        x=[p[0] for p in pts], y=[p[1] for p in pts], mode="lines", name=name,
        line=dict(color=col, width=1.3)))

FONT = "Arial, Liberation Sans, sans-serif"
grid_style = dict(showgrid=True, gridcolor="black", gridwidth=1.6, griddash="14px,9px", ticks="")

fig.update_layout(
    width=973, height=789,
    margin=dict(l=105, r=21, t=30, b=153, autoexpand=False),
    paper_bgcolor="white", plot_bgcolor="white",
    font=dict(family=FONT, color="black"),
    showlegend=True,
    legend=dict(orientation="h", x=0.0153, y=-0.1485, xanchor="left", yanchor="top",
                entrywidth=29.5, entrywidthmode="pixels", bgcolor="white",
                bordercolor="#808080", borderwidth=1, font=dict(size=17, family=FONT),
                traceorder="normal", itemwidth=40),
    xaxis=dict(range=[0, 400], tickvals=X_TICKS, showgrid=False, zeroline=False,
               showline=True, linecolor="black", linewidth=1.5,
               ticks="outside", ticklen=6, tickcolor="black", tickwidth=1.3,
               tickfont=dict(size=17, family=FONT, color="black"), ticklabelstandoff=8,
               minor=dict(tickvals=X_TICKS[1:-1], **grid_style),
               title=dict(text="<b>Horizontal position [cm]</b>", font=dict(size=21, family=FONT),
                          standoff=9),
               automargin=False, fixedrange=True),
    yaxis=dict(range=[-30, 0], tickvals=Y_TICKS, showgrid=False, zeroline=False,
               showline=True, linecolor="black", linewidth=1.5,
               ticks="outside", ticklen=6, tickcolor="black", tickwidth=1.3,
               tickfont=dict(size=17, family=FONT, color="black"), ticklabelstandoff=8,
               minor=dict(tickvals=Y_TICKS[1:-1], **grid_style),
               title=dict(text="<b>Vertical position [cm]</b>", font=dict(size=21, family=FONT),
                          standoff=7),
               automargin=False, fixedrange=True),
    shapes=[
        dict(type="rect", xref="paper", yref="paper", x0=0, x1=1, y0=0, y1=1,
             line=dict(color="#808080", width=1.2), layer="below"),
        dict(type="rect", xref="paper", yref="paper", x0=-0.1145, x1=1.1, y0=-0.5, y1=1.033,
             line=dict(color="black", width=1.5), fillcolor="rgba(0,0,0,0)", layer="above"),
    ],
    annotations=[dict(text="<b>D107</b>", xref="paper", yref="paper", x=-0.112, y=-0.222,
                      xanchor="left", yanchor="middle", showarrow=False,
                      font=dict(size=23, family=FONT, color="black"))],
)

fig.write_html("out.html")
